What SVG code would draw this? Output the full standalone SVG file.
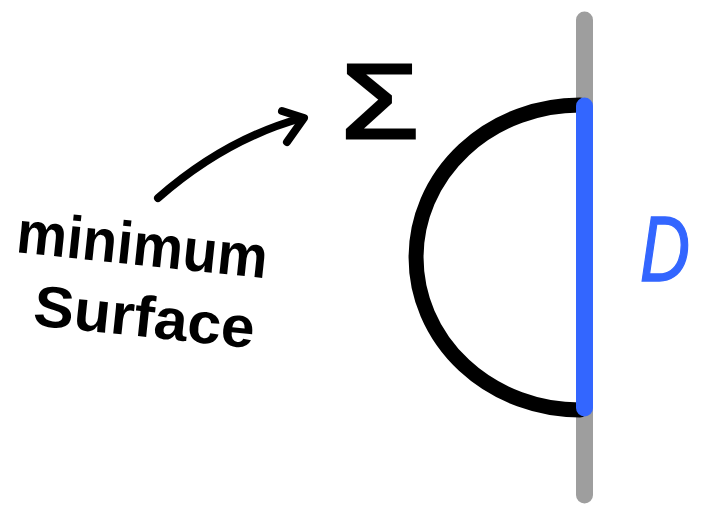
<svg xmlns="http://www.w3.org/2000/svg" width="706" height="506" viewBox="0 0 706 506">
<style>
.ink{fill:none;stroke:#000;stroke-linecap:round;stroke-linejoin:round}
.hand{font-family:"Liberation Sans","DejaVu Sans",sans-serif;font-weight:bold;fill:#000}
</style>
<rect width="706" height="506" fill="#fff"/>
<g id="plane"><line x1="584.5" y1="20" x2="584.5" y2="495" stroke="#9e9e9e" stroke-width="17" stroke-linecap="round"/></g>
<g id="surface"><path class="ink" d="M 580 105 A 164 152.5 0 0 0 580 410" stroke-width="15"/></g>
<g id="disk"><line x1="584.5" y1="106" x2="584.5" y2="408" stroke="#3366ff" stroke-width="17" stroke-linecap="round"/></g>
<g id="sigma-label"><text x="341" y="138" font-family="Liberation Sans, sans-serif" font-size="106" fill="#000" stroke="#000" stroke-width="3" textLength="78" lengthAdjust="spacingAndGlyphs">Σ</text></g>
<g id="d-label"><text x="640" y="281" font-family="Liberation Sans, sans-serif" font-style="italic" font-size="92" fill="#3366ff" stroke="#3366ff" stroke-width="1.5" textLength="50" lengthAdjust="spacingAndGlyphs">D</text></g>
<g id="caption">
<text class="hand" x="15" y="252" font-size="60" textLength="252" lengthAdjust="spacingAndGlyphs" transform="rotate(6 15 252)">minimum</text>
<text class="hand" x="32" y="325" font-size="58" textLength="222" lengthAdjust="spacingAndGlyphs" transform="rotate(6 32 325)">Surface</text>
</g>
<g id="connectors">
<path class="ink" stroke-width="8" d="M 158 198 C 190 170, 240 135, 302 118"/>
<path class="ink" stroke-width="8" d="M 282 111 L 304 118 L 287 142"/>
</g>
</svg>
